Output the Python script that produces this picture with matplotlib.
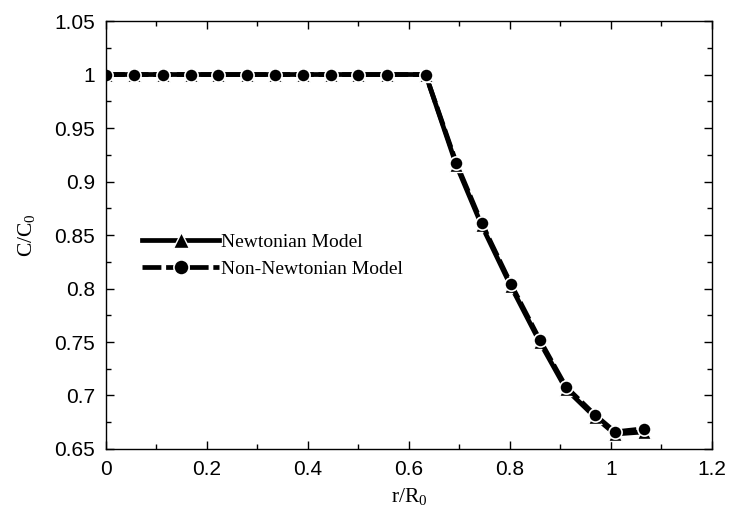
import numpy as np
import matplotlib
matplotlib.use('Agg')
import matplotlib.pyplot as plt
from matplotlib.ticker import MultipleLocator, FuncFormatter

plt.rcParams['mathtext.fontset'] = 'custom'
plt.rcParams['mathtext.rm'] = 'Liberation Serif'
plt.rcParams['mathtext.it'] = 'Liberation Serif'

# values
r_R0 = [0.0, 0.055, 0.112, 0.168, 0.222, 0.279, 0.335, 0.39, 0.445, 0.499, 0.557, 0.633,
        0.694, 0.744, 0.802, 0.859, 0.911, 0.968, 1.008, 1.066]
c_newtonian = [1.0, 1.0, 1.0, 1.0, 1.0, 1.0, 1.0, 1.0, 1.0, 1.0, 1.0, 1.0,
               0.915, 0.859, 0.802, 0.750, 0.706, 0.680, 0.664, 0.666]
c_non_newtonian = [1.0, 1.0, 1.0, 1.0, 1.0, 1.0, 1.0, 1.0, 1.0, 1.0, 1.0, 1.0,
                   0.917, 0.861, 0.804, 0.752, 0.708, 0.682, 0.666, 0.669]

fig = plt.figure(figsize=(7.3, 5.23), dpi=100)
ax = fig.add_axes([0.1452, 0.1415, 0.8301, 0.8183])

ax.plot(r_R0, c_newtonian, '-', color='black', lw=3.4, marker='^', ms=10.5,
        mfc='black', mec='white', mew=1.0, label='Newtonian Model')
ax.plot(r_R0, c_non_newtonian, color='black', lw=3.4, dashes=(4, 1), marker='o', ms=9.5,
        mfc='black', mec='white', mew=1.2, label='Non-Newtonian Model')

ax.set_xlim(0, 1.2)
ax.set_ylim(0.65, 1.05)
ax.xaxis.set_major_locator(MultipleLocator(0.2))
ax.xaxis.set_minor_locator(MultipleLocator(0.1))
ax.yaxis.set_major_locator(MultipleLocator(0.05))
ax.yaxis.set_minor_locator(MultipleLocator(0.025))
fmt = FuncFormatter(lambda v, p: '%g' % round(v, 3))
ax.xaxis.set_major_formatter(fmt)
ax.yaxis.set_major_formatter(fmt)

ax.tick_params(which='both', direction='in', top=True, right=True, width=1.0)
ax.tick_params(which='major', length=6)
ax.tick_params(which='minor', length=3.5)
ax.tick_params(axis='x', pad=8)
ax.tick_params(axis='y', pad=8)
for lbl in ax.get_xticklabels() + ax.get_yticklabels():
    lbl.set_family('Liberation Sans')
    lbl.set_fontsize(15)
for s in ax.spines.values():
    s.set_linewidth(1.0)

ax.set_xlabel('r/R$_0$', family='Liberation Serif', fontsize=15.5, labelpad=5)
ax.set_ylabel('C/C$_0$', family='Liberation Serif', fontsize=15.5, labelpad=12)

ax.legend(loc='upper left', bbox_to_anchor=(0.03, 0.545), frameon=False,
          prop={'family': 'Liberation Serif', 'size': 14}, handlelength=4.0,
          handletextpad=0.1, labelspacing=0.5, markerscale=1.15)

fig.savefig('out.png', dpi=100)
